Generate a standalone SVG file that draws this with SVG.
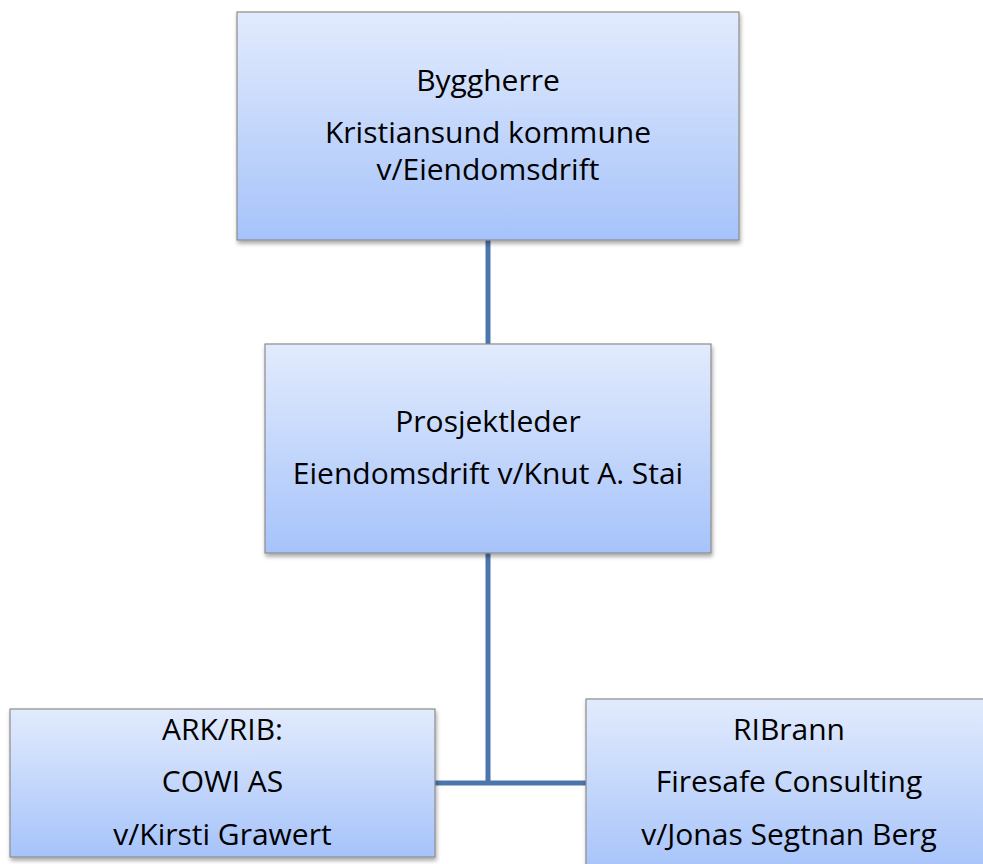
<svg xmlns="http://www.w3.org/2000/svg" width="983" height="864" viewBox="0 0 983 864">
<style>
.box{fill:url(#g);stroke:#8c8c8c;stroke-width:1.2;filter:url(#sh)}
.t{font-family:"Open Sans","Noto Sans",sans-serif;font-size:30px;fill:#000;text-anchor:middle}
.c{stroke:#4a76ad;stroke-width:5;fill:none}
</style>
<defs>
<linearGradient id="g" x1="0" y1="0" x2="0" y2="1">
<stop offset="0" stop-color="#e2ebfd"/>
<stop offset="1" stop-color="#a6c3fa"/>
</linearGradient>
<filter id="sh" x="-5%" y="-5%" width="115%" height="120%">
<feGaussianBlur in="SourceAlpha" stdDeviation="2"/>
<feOffset dx="1" dy="3" result="b"/>
<feComponentTransfer><feFuncA type="linear" slope="0.35"/></feComponentTransfer>
<feMerge><feMergeNode/><feMergeNode in="SourceGraphic"/></feMerge>
</filter>
</defs>
<rect width="983" height="864" fill="#fff"/>
<g id="connectors">
<path class="c" d="M488 240V344"/>
<path class="c" d="M488 553V783"/>
<path class="c" d="M435 783H586"/>
</g>
<g id="byggherre">
<rect class="box" x="237" y="12" width="502" height="228"/>
<text class="t" x="488" y="91">Byggherre</text>
<text class="t" x="488" y="143">Kristiansund kommune</text>
<text class="t" x="488" y="180">v/Eiendomsdrift</text>
</g>
<g id="prosjektleder">
<rect class="box" x="265" y="344" width="446" height="209"/>
<text class="t" x="488" y="432">Prosjektleder</text>
<text class="t" x="488" y="484">Eiendomsdrift v/Knut A. Stai</text>
</g>
<g id="ark">
<rect class="box" x="10" y="709" width="425" height="148"/>
<text class="t" x="222.5" y="740">ARK/RIB:</text>
<text class="t" x="222.5" y="792">COWI AS</text>
<text class="t" x="222.5" y="845">v/Kirsti Grawert</text>
</g>
<g id="ribrann">
<rect class="box" x="586" y="699" width="406" height="175"/>
<text class="t" x="789" y="740">RIBrann</text>
<text class="t" x="789" y="792">Firesafe Consulting</text>
<text class="t" x="789" y="845">v/Jonas Segtnan Berg</text>
</g>
</svg>
